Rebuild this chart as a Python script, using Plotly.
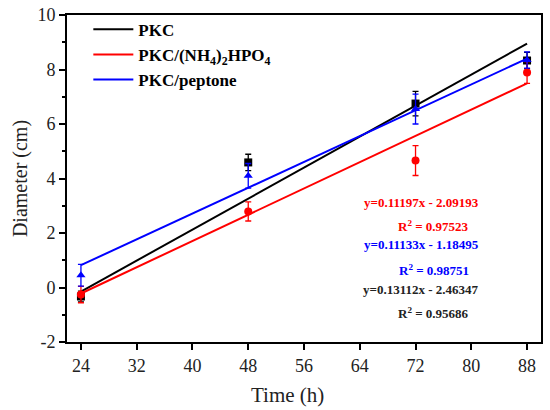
import plotly.graph_objects as go

# sampling times (h)
time_h = [24, 48, 72, 88]

# measured diameters (cm) and their error bars
pkc_mean = [-0.33, 4.59, 6.75, 8.33]
pkc_err = [0.2, 0.3, 0.45, 0.3]
nh4_mean = [-0.26, 2.79, 4.66, 7.89]
nh4_err = [0.3, 0.35, 0.55, 0.4]
pep_mean = [0.45, 4.1, 6.55, 8.35]
pep_err = [0.4, 0.45, 0.55, 0.3]

# fitted lines as drawn (value at first and last time point)
fit_x = [24, 88]
pkc_fit = [-0.15, 8.95]
nh4_fit = [-0.22, 7.49]
pep_fit = [0.82, 8.4]

series_names = ["PKC", "PKC/(NH<sub>4</sub>)<sub>2</sub>HPO<sub>4</sub>", "PKC/peptone"]
equations = [
    ("y=0.11197x - 2.09193", "R<sup>2</sup> = 0.97523", "red"),
    ("y=0.11133x - 1.18495", "R<sup>2</sup> = 0.98751", "blue"),
    ("y=0.13112x - 2.46347", "R<sup>2</sup> = 0.95686", "#222222"),
]
eq_y = [3.12, 1.58, -0.07]
r2_y = [2.24, 0.66, -0.95]

x_ticks = [24, 32, 40, 48, 56, 64, 72, 80, 88]
y_ticks = [-2, 0, 2, 4, 6, 8, 10]

FONT = "Liberation Serif"

fig = go.Figure()

series = [
    (pkc_mean, pkc_err, pkc_fit, "black", "square"),
    (nh4_mean, nh4_err, nh4_fit, "red", "circle"),
    (pep_mean, pep_err, pep_fit, "blue", "triangle-up"),
]

for name, (mean, err, fit, color, symbol) in zip(series_names, series):
    fig.add_trace(go.Scatter(
        x=fit_x, y=fit, mode="lines", name=name,
        line=dict(color=color, width=2), showlegend=True,
    ))
    fig.add_trace(go.Scatter(
        x=time_h, y=mean, mode="markers", showlegend=False,
        marker=dict(color=color, symbol=symbol, size=8),
        error_y=dict(type="data", array=err, color=color, thickness=1.3, width=3),
    ))

# equation labels
ann = []
for (eq, r2, color), ye, yr in zip(equations, eq_y, r2_y):
    ann.append(dict(x=72.8, y=ye, text="<b>" + eq + "</b>", showarrow=False,
                    font=dict(family=FONT, size=13, color=color), xanchor="center"))
    ann.append(dict(x=74.6, y=yr, text="<b>" + r2 + "</b>", showarrow=False,
                    font=dict(family=FONT, size=13, color=color), xanchor="center"))

# x axis title sits a little left of the plot centre in the original
ann.append(dict(xref="paper", yref="paper", x=0.466, y=-0.162, text="Time (h)",
                showarrow=False, font=dict(family=FONT, size=21, color="#222222"),
                xanchor="center", yanchor="middle"))

axis_common = dict(
    showline=True, linecolor="black", linewidth=2, mirror=True,
    ticks="outside", ticklen=6, tickwidth=1.5, tickcolor="black",
    showgrid=False, zeroline=False,
    tickfont=dict(family=FONT, size=18, color="#222222"),
)

fig.update_layout(
    width=550, height=410,
    margin=dict(l=67, r=9, t=15, b=68, autoexpand=False),
    plot_bgcolor="white", paper_bgcolor="white",
    font=dict(family=FONT, color="#222222"),
    annotations=ann,
    legend=dict(
        x=0.045, y=1.01, xanchor="left", yanchor="top",
        bgcolor="rgba(0,0,0,0)",
        font=dict(family=FONT, size=17, color="black", weight="bold"),
        itemwidth=40, tracegroupgap=0,
    ),
    xaxis=dict(
        range=[22, 90], tickmode="array", tickvals=x_ticks,
        **axis_common,
    ),
    yaxis=dict(
        range=[-2, 10], tickmode="array", tickvals=y_ticks,
        ticktext=[str(v) for v in y_ticks],
        minor=dict(dtick=1, ticks="outside", ticklen=3, tickcolor="black"),
        title=dict(text="Diameter (cm)", font=dict(family=FONT, size=20), standoff=4),
        **axis_common,
    ),
)

# drop the default page margin so the figure sits at the window's corner
fig.write_html("out.html", config={"displayModeBar": False},
               post_script="document.body.style.margin='0';")
